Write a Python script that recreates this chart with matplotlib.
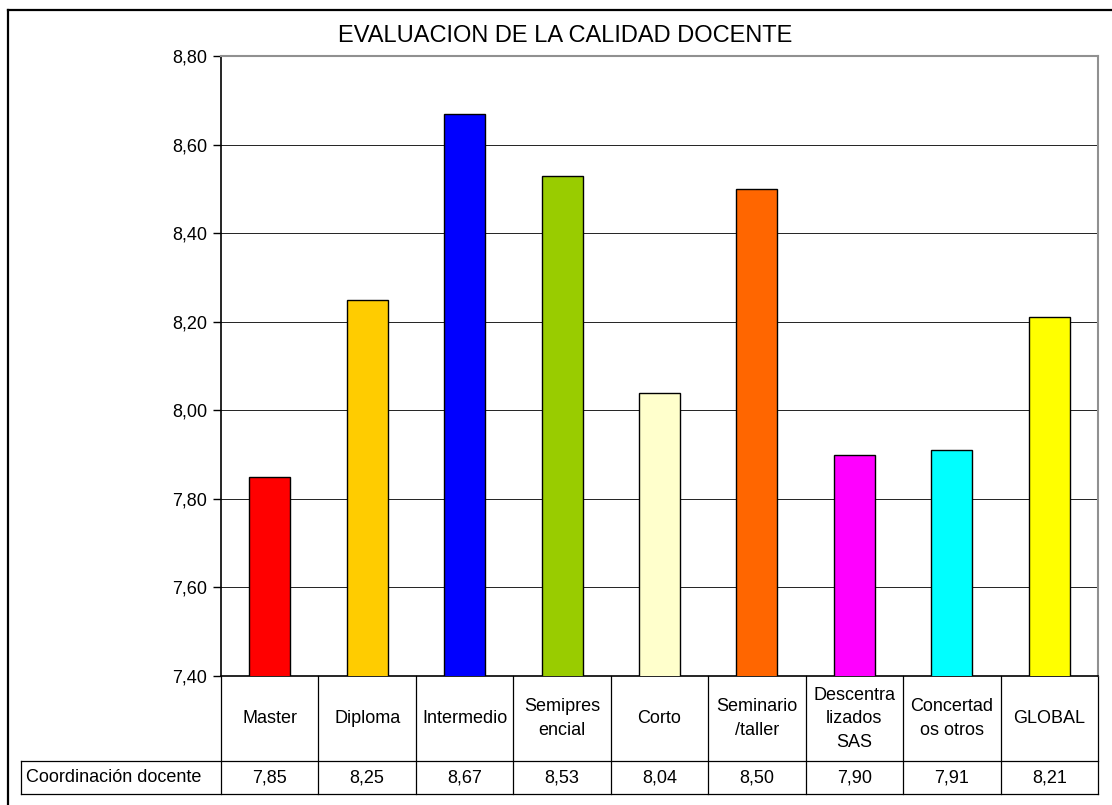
import numpy as np
import matplotlib.pyplot as plt
from matplotlib.lines import Line2D
from matplotlib.ticker import FuncFormatter

plt.rcParams['font.family'] = ['Liberation Sans', 'DejaVu Sans']

categories = ["Master", "Diploma", "Intermedio", "Semipres\nencial", "Corto",
              "Seminario\n/taller", "Descentra\nlizados\nSAS", "Concertad\nos otros", "GLOBAL"]
values = [7.85, 8.25, 8.67, 8.53, 8.04, 8.50, 7.90, 7.91, 8.21]
colors = ["#FF0000", "#FFCC00", "#0000FF", "#99CC00", "#FFFFCC",
          "#FF6600", "#FF00FF", "#00FFFF", "#FFFF00"]
series_name = "Coordinación docente"
title = "EVALUACION DE LA CALIDAD DOCENTE"

W, H = 1112, 805
fig = plt.figure(figsize=(W / 100, H / 100), dpi=100)

# plot area in pixels
left, right, top, bottom = 221, 1098, 56, 676
ax = fig.add_axes([left / W, 1 - bottom / H, (right - left) / W, (bottom - top) / H])

x = np.arange(len(values))
ax.bar(x, values, width=0.42, bottom=0, color=colors, edgecolor="black", linewidth=1.0, zorder=3)
ax.set_xlim(-0.5, len(values) - 0.5)
ax.set_ylim(7.40, 8.80)
ax.set_yticks(np.arange(7.40, 8.81, 0.20))
ax.yaxis.set_major_formatter(FuncFormatter(lambda v, p: f"{v:.2f}".replace(".", ",")))
ax.tick_params(axis="y", direction="out", length=6, width=1, labelsize=13, pad=4)
ax.set_xticks([])
ax.grid(axis="y", color="#222222", linewidth=0.7, zorder=0)
for s in ["top", "right"]:
    ax.spines[s].set_color("#909090")
    ax.spines[s].set_linewidth(1.5)
ax.spines["left"].set_linewidth(1.2)
ax.spines["bottom"].set_linewidth(1.2)

fig.text(565 / W, 1 - 36 / H, title, ha="center", va="center", fontsize=17)

# data table below the axis
tr = ax.get_xaxis_transform()
ph = bottom - top
r1 = -(761 - bottom) / ph
r2 = -(794 - bottom) / ph
lkw = dict(color="black", linewidth=0.9, transform=tr, clip_on=False)
n = len(values)
for i in range(n + 1):
    ax.add_line(Line2D([i - 0.5, i - 0.5], [0, r2], **lkw))
lab_left = -0.5 - (left - 21) / ((right - left) / n)
ax.add_line(Line2D([lab_left, n - 0.5], [r1, r1], **lkw))
ax.add_line(Line2D([lab_left, n - 0.5], [r2, r2], **lkw))
ax.add_line(Line2D([lab_left, lab_left], [r1, r2], **lkw))
for i, (c, v) in enumerate(zip(categories, values)):
    ax.text(i, r1 / 2, c, transform=tr, ha="center", va="center", fontsize=13, linespacing=1.5)
    ax.text(i, (r1 + r2) / 2, f"{v:.2f}".replace(".", ","), transform=tr,
            ha="center", va="center", fontsize=13)
ax.text(lab_left + 0.05, (r1 + r2) / 2, series_name, transform=tr, ha="left", va="center", fontsize=13)

# outer chart frame (extends past right/bottom edges)
fig.add_artist(Line2D([8 / W, 8 / W], [1 - 10 / H, 0], color="black", linewidth=1.6, transform=fig.transFigure))
fig.add_artist(Line2D([8 / W, 1], [1 - 10 / H, 1 - 10 / H], color="black", linewidth=1.6, transform=fig.transFigure))

fig.savefig("out.png", dpi=100)
